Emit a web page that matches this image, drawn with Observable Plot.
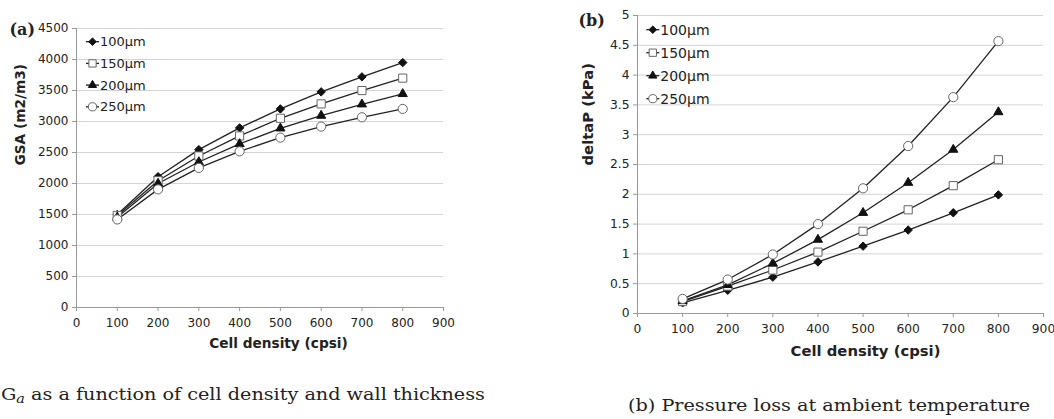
<!DOCTYPE html>
<html><head><meta charset="utf-8">
<script src="https://cdn.jsdelivr.net/npm/d3@7"></script>
<script src="https://cdn.jsdelivr.net/npm/@observablehq/plot@0.6"></script>
<style>
html,body{margin:0;padding:0;background:#fff;}
#wrap{position:relative;width:1054px;height:419px;overflow:hidden;background:#fff;}
#a{position:absolute;left:0;top:0;}
#b{position:absolute;left:560px;top:0;}
.cap{position:absolute;font-family:"DejaVu Serif",serif;font-size:16px;line-height:16px;color:#222;white-space:nowrap;transform:scaleX(1.2);transform-origin:0 0;}
.cap sub{font-size:12px;line-height:0;vertical-align:-3px;}
</style></head><body>
<div id="wrap">
<div id="a"></div><div id="b"></div>
<div class="cap" style="left:1px;top:387px;">G<sub><i>a</i></sub> as a function of cell density and wall thickness</div>
<div class="cap" style="left:628px;top:398px;">(b) Pressure loss at ambient temperature</div>
</div>
<script>
// ---- data ----
const cpsi = [100, 200, 300, 400, 500, 600, 700, 800];
const series = ["100µm", "150µm", "200µm", "250µm"];
const gsa100 = [1500, 2110, 2546, 2897, 3203, 3478, 3720, 3950];
const gsa150 = [1485, 2045, 2444, 2767, 3052, 3284, 3499, 3700];
const gsa200 = [1455, 2000, 2347, 2638, 2890, 3095, 3278, 3445];
const gsa250 = [1420, 1905, 2251, 2519, 2740, 2918, 3068, 3203];
const dp100 = [0.18, 0.39, 0.61, 0.865, 1.13, 1.40, 1.69, 1.99];
const dp150 = [0.20, 0.46, 0.73, 1.03, 1.38, 1.74, 2.145, 2.58];
const dp200 = [0.21, 0.48, 0.84, 1.24, 1.69, 2.195, 2.75, 3.38];
const dp250 = [0.245, 0.57, 0.99, 1.50, 2.10, 2.81, 3.63, 4.57];
const xTicks = [0, 100, 200, 300, 400, 500, 600, 700, 800, 900];
const yTicksA = [0, 500, 1000, 1500, 2000, 2500, 3000, 3500, 4000, 4500];
const yTicksB = [0, 0.5, 1, 1.5, 2, 2.5, 3, 3.5, 4, 4.5, 5];
const xLabel = "Cell density (cpsi)";
const yLabelA = "GSA (m2/m3)";
const yLabelB = "deltaP (kPa)";

// ---- styles ----
const symbols = ["diamond2", "square", "triangle", "circle"];
const fills = ["#111", "#fff", "#111", "#fff"];
const strokes = ["#111", "#666", "#111", "#666"];
const radii = [3.8, 4.6, 3.4, 4.6];

function tidy(lists) {
  const out = [];
  lists.forEach((vals, i) => vals.forEach((v, j) => out.push({x: cpsi[j], y: v, s: series[i], i})));
  return out;
}

function chart(cfg) {
  const data = tidy(cfg.lists);
  const marks = [
    Plot.gridY(cfg.yTicks, {stroke: "#d4d4d4", strokeOpacity: 1}),
    Plot.ruleX([0], {stroke: "#999"}),
    Plot.ruleY([0], {stroke: "#999"}),
    Plot.axisY(cfg.yTicks, {tickSize: 4, tickPadding: 4, tickFormat: d => String(d), label: null, fill: "#222", fontSize: cfg.tickFont}),
    Plot.axisX(xTicks, {tickSize: 4, tickPadding: 7, tickFormat: d => String(d), label: null, fill: "#222", fontSize: cfg.tickFont}),
    Plot.line(data, {x: "x", y: "y", z: "s", stroke: "#222", strokeWidth: 1.3}),
    ...series.map((s, i) => Plot.dot(data.filter(d => d.i === i), {
      x: "x", y: "y", symbol: symbols[i], r: radii[i], fill: fills[i], stroke: strokes[i], strokeWidth: 1
    })),
    Plot.text([cfg.yLabel], {frameAnchor: "left", text: d => d, rotate: -90, dx: cfg.yLabDx, dy: cfg.yLabDy,
      fontWeight: "bold", fontSize: cfg.labFont, fill: "#222"}),
    Plot.text([xLabel], {frameAnchor: "bottom", text: d => d, dx: cfg.xLabDx, dy: cfg.xLabDy,
      fontWeight: "bold", fontSize: cfg.labFont, fill: "#222"}),
    Plot.text([cfg.panel], {frameAnchor: "top-left", lineAnchor: "middle", text: d => d, textAnchor: "start", dx: cfg.panDx, dy: cfg.panDy,
      fontWeight: "bold", fontSize: cfg.panFont, fontFamily: "DejaVu Serif", fill: "#222"})
  ];
  const svg = Plot.plot({
    width: cfg.width, height: cfg.height,
    marginLeft: cfg.ml, marginRight: cfg.mr, marginTop: cfg.mt, marginBottom: cfg.mb,
    x: {domain: [0, 900]},
    y: {domain: cfg.yDomain},
    style: {fontFamily: "DejaVu Sans, sans-serif", fontSize: cfg.tickFont + "px", color: "#222", background: "transparent", overflow: "visible"},
    marks
  });
  const root = d3.select(svg);
  root.selectAll('[aria-label="y-axis tick"], [aria-label="x-axis tick"]').attr("stroke", "#999");
  // legend
  const g = root.append("g").attr("font-family", "DejaVu Sans, sans-serif").attr("font-size", cfg.legFont)
    .attr("text-anchor", "start");
  series.forEach((s, i) => {
    const y = cfg.mt + cfg.legY0 + cfg.legStep * i;
    const x0 = cfg.ml + cfg.legX;
    g.append("line").attr("x1", x0).attr("x2", x0 + 13).attr("y1", y).attr("y2", y).attr("stroke", "#222").attr("stroke-width", 1.3);
    const sym = {diamond2: d3.symbolDiamond2, square: d3.symbolSquare, triangle: d3.symbolTriangle, circle: d3.symbolCircle}[symbols[i]];
    g.append("path").attr("d", d3.symbol(sym, Math.PI * radii[i] * radii[i] * 0.8)())
      .attr("transform", `translate(${x0 + 6.5},${y})`).attr("fill", fills[i]).attr("stroke", strokes[i]);
    g.append("text").attr("x", x0 + 14).attr("y", y).attr("dy", "0.36em").attr("fill", "#222").text(s);
  });
  return svg;
}

document.getElementById("a").append(chart({
  lists: [gsa100, gsa150, gsa200, gsa250], yTicks: yTicksA, yDomain: [0, 4500],
  width: 460, height: 360, ml: 76, mr: 17, mt: 28, mb: 53,
  tickFont: 12, labFont: 13.7, legFont: 13, panFont: 16,
  yLabel: yLabelA, yLabDx: -56, yLabDy: -2.5, xLabDx: 18.5, xLabDy: 40,
  panel: "(a)", panDx: -67, panDy: 1.5,
  legX: 10, legY0: 13.7, legStep: 21.7
}));
document.getElementById("b").append(chart({
  lists: [dp100, dp150, dp200, dp250], yTicks: yTicksB, yDomain: [0, 5],
  width: 494, height: 370, ml: 77, mr: 11, mt: 15, mb: 57,
  tickFont: 12.3, labFont: 14.8, legFont: 14, panFont: 16,
  yLabel: yLabelB, yLabDx: -49, yLabDy: 1, xLabDx: 25, xLabDy: 42,
  panel: "(b)", panDx: -59, panDy: 5,
  legX: 9.3, legY0: 14.7, legStep: 23
}));
</script>
</body></html>
